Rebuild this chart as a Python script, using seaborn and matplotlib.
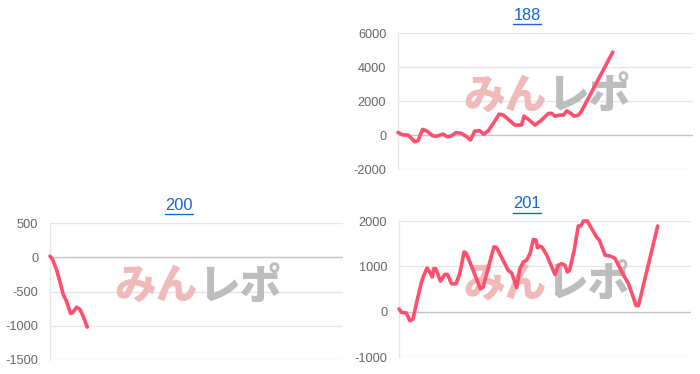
import matplotlib
matplotlib.use("Agg")
import matplotlib.pyplot as plt
import seaborn as sns
import pandas as pd
from matplotlib.lines import Line2D

# ---- data ----
titles = ["188", "200", "201"]

x188 = [0, 17, 34, 57, 68, 83, 96, 119, 133, 153, 166, 181, 196, 215, 232, 246, 260, 277, 291, 306,
        323, 343, 357, 374, 396, 419, 427, 442, 464, 484, 510, 521, 532, 549, 561, 572, 586, 597, 612, 622,
        728]
y188 = [150, 0, 0, -400, -330, 330, 250, -60, -60, 60, -100, -60, 140, 100, -100, -290, 230, 250, 40, 250,
        680, 1230, 1170, 920, 585, 585, 1110, 920, 585, 840, 1270, 1270, 1110, 1170, 1170, 1420, 1270, 1110, 1170, 1400,
        4880]

x200 = [0, 9, 23, 34, 45, 57, 70, 77, 91, 102, 114, 127]
y200 = [15, -34, -190, -360, -540, -650, -820, -810, -730, -760, -870, -1020]

x201 = [0, 8, 25, 37, 48, 59, 77, 85, 96, 105, 114, 119, 126, 142, 157, 166, 180, 195, 208, 223,
        231, 279, 288, 325, 334, 374, 386, 403, 414, 426, 437, 449, 460, 469, 474, 481, 489, 506, 534, 546,
        557, 568, 577, 584, 600, 614, 622, 632, 645, 677, 686, 706, 725, 740, 763, 786, 812, 820, 886]
y201 = [59, -15, -30, -200, -163, 170, 652, 800, 963, 874, 763, 948, 948, 674, 822, 822, 615, 615, 837, 1319,
        1282, 504, 541, 1430, 1415, 911, 852, 526, 948, 1097, 1134, 1282, 1593, 1578, 1408, 1445, 1430, 1245, 822, 1023,
        1060, 1023, 874, 911, 1356, 1890, 1890, 2000, 2000, 1638, 1578, 1245, 1223, 1171, 874, 615, 133, 133, 1890]

yticks188 = [-2000, 0, 2000, 4000, 6000]
yticks200 = [-1500, -1000, -500, 0, 500]
yticks201 = [-1000, 0, 1000, 2000]
x_max = 1000

# ---- style ----
sns.set_theme(style="white")
plt.rcParams["font.family"] = ["Liberation Sans", "Noto Sans CJK JP", "DejaVu Sans"]

LINE = "#ff4f6e"
GRID = "#e6e6e6"
ZERO = "#c4c4c4"
TICK = "#666666"
LINK = "#1566d2"

fig = plt.figure(figsize=(7.0, 3.74), dpi=100)

panels = [
    (titles[0], x188, y188, yticks188, [398, 33, 693, 169], (527, 20)),
    (titles[1], x200, y200, yticks200, [50, 223, 343, 360], (179, 210)),
    (titles[2], x201, y201, yticks201, [399, 221, 691, 357], (527, 208.5)),
]

W, H = 700.0, 374.0
title_texts = []
for title, xs, ys, yt, (l, t, r, b), (tx, ty) in panels:
    ax = fig.add_axes([l / W, 1 - b / H, (r - l) / W, (b - t) / H])
    ax.set_facecolor("none")
    df = pd.DataFrame({"x": xs, "y": ys})
    sns.lineplot(data=df, x="x", y="y", ax=ax, color=LINE, linewidth=2.6,
                 sort=False, estimator=None, zorder=5, clip_on=False,
                 solid_joinstyle="round", solid_capstyle="round")
    ax.set_xlim(0, x_max)
    ax.set_ylim(yt[0], yt[-1])
    ax.set_yticks(yt)
    ax.set_yticklabels([str(v) for v in yt])
    ax.set_xticks([])
    ax.set_xlabel("")
    ax.set_ylabel("")
    for v in yt:
        ax.axhline(v, color=ZERO if v == 0 else GRID, linewidth=1.0, zorder=1)
    for s in ["top", "right", "bottom"]:
        ax.spines[s].set_visible(False)
    ax.spines["left"].set_color(GRID)
    ax.spines["left"].set_linewidth(1.0)
    ax.tick_params(axis="y", length=7.2, width=1.0, color=GRID, pad=1.2,
                   labelsize=9.2, labelcolor=TICK)
    # watermark
    ax.text(0.505, 0.535, "みん", transform=ax.transAxes, ha="right", va="center",
            fontsize=30, fontweight="black", color="#f0baba",
            family=["Noto Sans CJK JP"], zorder=2)
    ax.text(0.505, 0.535, "レポ", transform=ax.transAxes, ha="left", va="center",
            fontsize=30, fontweight="black", color="#bdbdbd",
            family=["Noto Sans CJK JP"], zorder=2)
    tt = fig.text(tx / W, 1 - ty / H, title, ha="center", va="baseline",
                  fontsize=11.8, color=LINK)
    title_texts.append(tt)

fig.canvas.draw()
renderer = fig.canvas.get_renderer()
for tt in title_texts:
    bb = tt.get_window_extent(renderer)
    yline = (bb.y0 - 1.0) / H
    fig.add_artist(Line2D([bb.x0 / W, bb.x1 / W], [yline, yline],
                          transform=fig.transFigure, color=LINK, linewidth=1.0))

fig.savefig("out.png", dpi=100)
